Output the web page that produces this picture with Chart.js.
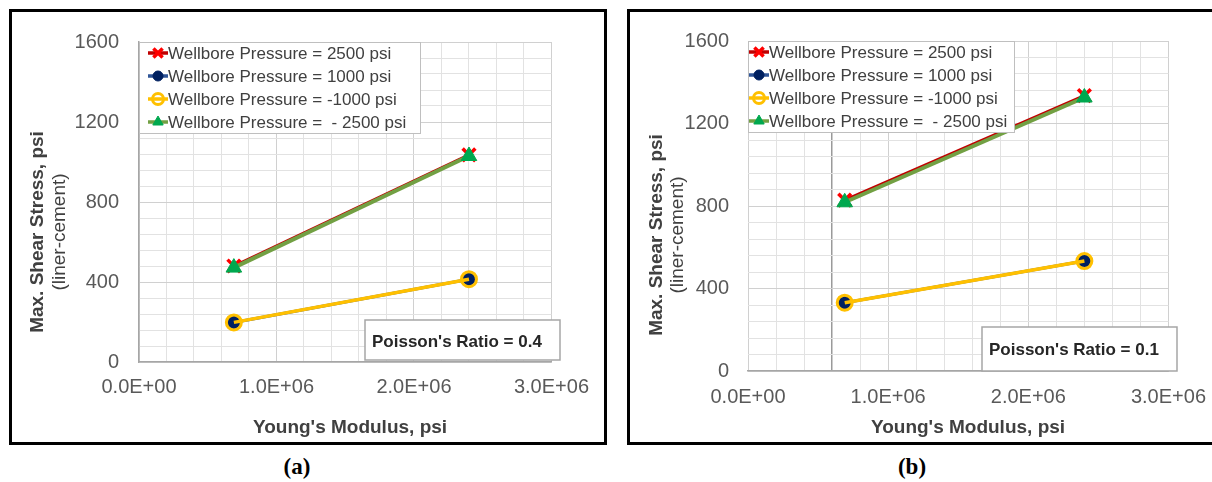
<!DOCTYPE html>
<html>
<head>
<meta charset="utf-8">
<script src="https://cdn.jsdelivr.net/npm/chart.js@4.4.1/dist/chart.umd.min.js"></script>
<style>
  body { margin: 0; width: 1212px; height: 482px; overflow: hidden; background: #fff; position: relative; }
  .frame { position: absolute; top: 9px; width: 598px; height: 436px; border: 3px solid #000; box-sizing: border-box; }
  .chart { position: absolute; top: 12px; width: 592px; height: 430px; }
  .caption { position: absolute; top: 454px; width: 60px; text-align: center; line-height: 26px;
             font: bold 23px "Liberation Serif", "Times New Roman", serif; color: #000; }
</style>
</head>
<body>
<div class="frame" style="left:9px"></div>
<div class="frame" style="left:627px"></div>
<div class="chart" style="left:12px"><canvas id="chart-a"></canvas></div>
<div class="chart" style="left:630px"><canvas id="chart-b"></canvas></div>
<div class="caption" style="left:267px">(a)</div>
<div class="caption" style="left:882px">(b)</div>

<script>
// Young's modulus values (psi) used in both runs
const youngsModulus = [0.69e6, 2.4e6];

// Poisson's ratio = 0.4
const shearA2500 = [480, 1036];
const shearA1000 = [198, 414];
const shearAneg1000 = [198, 414];
const shearAneg2500 = [472, 1030];

// Poisson's ratio = 0.1
const shearB2500 = [828, 1335];
const shearB1000 = [331, 533];
const shearBneg1000 = [331, 533];
const shearBneg2500 = [818, 1326];

const seriesLabels = [
  "Wellbore Pressure = 2500 psi",
  "Wellbore Pressure = 1000 psi",
  "Wellbore Pressure = -1000 psi",
  "Wellbore Pressure =  - 2500 psi",
];

const yTicksMajor = [0, 400, 800, 1200, 1600];
const xTicksMajor = [0, 1e6, 2e6, 3e6];

const FONT = '"Liberation Sans", Arial, sans-serif';

function toPoints(ys) {
  return youngsModulus.map((x, i) => ({ x: x, y: ys[i] }));
}

// Excel-style scientific label, e.g. 1.0E+06
function sci(v) {
  const [m, e] = v.toExponential(1).split("e");
  const n = parseInt(e, 10);
  return m + "E" + (n < 0 ? "-" : "+") + String(Math.abs(n)).padStart(2, "0");
}

function makeDatasets(s2500, s1000, sNeg1000, sNeg2500) {
  return [
    {
      label: seriesLabels[0], data: toPoints(s2500), order: 3,
      borderColor: "#c00000", borderWidth: 3,
      pointStyle: "crossRot", pointRadius: 9, pointBorderWidth: 3.5,
      pointBorderColor: "#ff0000", pointBackgroundColor: "#ff0000", legendRadius: 6.5,
    },
    {
      label: seriesLabels[1], data: toPoints(s1000), order: 3,
      borderColor: "#2f5597", borderWidth: 3,
      pointStyle: "circle", pointRadius: 6, pointBorderWidth: 1,
      pointBorderColor: "#002060", pointBackgroundColor: "#002060", legendRadius: 5,
    },
    {
      label: seriesLabels[2], data: toPoints(sNeg1000), order: 1,
      borderColor: "#ffc000", borderWidth: 3.5,
      pointStyle: "circle", pointRadius: 7.5, pointBorderWidth: 3,
      pointBorderColor: "#ffc000", pointBackgroundColor: "rgba(0,0,0,0)", legendRadius: 5.5,
    },
    {
      label: seriesLabels[3], data: toPoints(sNeg2500), order: 1,
      borderColor: "#72a043", borderWidth: 4,
      pointStyle: "triangle", pointRadius: 9, pointBorderWidth: 1,
      pointBorderColor: "#00a84f", pointBackgroundColor: "#00a84f", legendRadius: 6,
    },
  ];
}

// legend box, ratio note and axis titles drawn over the plot
const panelDecor = {
  id: "panelDecor",
  afterDraw(chart, args, o) {
    const ctx = chart.ctx;
    const area = chart.chartArea;
    ctx.save();

    // legend in the upper left corner of the plot
    const bx = area.left, by = area.top;
    ctx.fillStyle = "#fff";
    ctx.fillRect(bx, by, o.legendW, 92);
    ctx.strokeStyle = "#bfbfbf";
    ctx.lineWidth = 1;
    ctx.strokeRect(bx + 0.5, by + 0.5, o.legendW - 1, 91);
    chart.data.datasets.forEach((ds, i) => {
      const y = by + 11 + i * 23;
      const x0 = bx + o.sampleX, x1 = x0 + 20;
      ctx.strokeStyle = ds.borderColor;
      ctx.lineWidth = 3.5;
      ctx.beginPath();
      ctx.moveTo(x0, y);
      ctx.lineTo(x1, y);
      ctx.stroke();
      ctx.fillStyle = ds.pointBackgroundColor;
      ctx.strokeStyle = ds.pointBorderColor;
      ctx.lineWidth = ds.pointBorderWidth;
      Chart.helpers.drawPoint(ctx, {
        pointStyle: ds.pointStyle, radius: ds.legendRadius,
        borderWidth: ds.pointBorderWidth, rotation: 0,
      }, (x0 + x1) / 2, y);
      ctx.fillStyle = "#404040";
      ctx.font = "17px " + FONT;
      ctx.textAlign = "left";
      ctx.textBaseline = "middle";
      ctx.fillText(ds.label, x1, y + 1);
    });

    // Poisson's ratio note
    const n = o.note;
    ctx.fillStyle = "#fff";
    ctx.fillRect(n.x, n.y, n.w, n.h);
    ctx.strokeStyle = "#a6a6a6";
    ctx.lineWidth = 1.5;
    ctx.strokeRect(n.x, n.y, n.w, n.h);
    ctx.fillStyle = "#262626";
    ctx.font = "bold 17px " + FONT;
    ctx.textAlign = "left";
    ctx.textBaseline = "middle";
    ctx.fillText(n.text, n.x + 7, n.ty);

    // axis titles
    ctx.fillStyle = "#404040";
    ctx.textAlign = "center";
    ctx.font = "bold 19px " + FONT;
    ctx.fillText("Young's Modulus, psi", o.xTitle.x, o.xTitle.y);

    ctx.save();
    ctx.translate(o.yTitle.x1, o.yTitle.y);
    ctx.rotate(-Math.PI / 2);
    ctx.fillText("Max. Shear Stress, psi", 0, 0);
    ctx.restore();
    ctx.save();
    ctx.translate(o.yTitle.x2, o.yTitle.y);
    ctx.rotate(-Math.PI / 2);
    ctx.font = "19px " + FONT;
    ctx.fillText("(liner-cement)", 0, 0);
    ctx.restore();

    ctx.restore();
  },
};

function buildChart(id, datasets, cfg) {
  return new Chart(document.getElementById(id), {
    type: "scatter",
    data: { datasets: datasets },
    plugins: [panelDecor],
    options: {
      responsive: true,
      maintainAspectRatio: false,
      animation: false,
      showLine: true,
      layout: { padding: { left: 0, top: cfg.top, right: cfg.right, bottom: 0 } },
      plugins: {
        legend: { display: false },
        tooltip: { enabled: false },
        panelDecor: cfg.decor,
      },
      scales: {
        x: {
          type: "linear", min: 0, max: 3e6,
          afterFit: (s) => { s.height = cfg.xHeight; },
          border: { display: true, color: "#a6a6a6", width: 1.5 },
          grid: {
            drawTicks: false,
            color: (c) => {
              const v = c.tick ? c.tick.value : 0;
              if (cfg.crossAt !== null && v === cfg.crossAt) return "#9a9a9a";
              return xTicksMajor.includes(v) ? "#d0d0d0" : "#e2e2e2";
            },
            lineWidth: (c) => (c.tick && c.tick.value === cfg.crossAt ? 1.5 : 1),
          },
          ticks: {
            stepSize: 2e5, autoSkip: false, maxRotation: 0, minRotation: 0,
            padding: cfg.xPad, color: "#595959",
            font: { family: FONT, size: 20, lineHeight: 1 },
            callback: (v) => (xTicksMajor.includes(v) ? sci(v) : ""),
          },
        },
        y: {
          type: "linear", min: 0, max: 1600,
          afterFit: (s) => { s.width = cfg.yWidth; },
          border: { display: cfg.crossAt === null, color: "#a6a6a6", width: 1.5 },
          grid: {
            drawTicks: false,
            color: (c) => (c.tick && yTicksMajor.includes(c.tick.value) ? "#d0d0d0" : "#e2e2e2"),
          },
          ticks: {
            stepSize: 80, autoSkip: false,
            padding: cfg.yPad, color: "#595959",
            font: { family: FONT, size: 20, lineHeight: 1 },
            callback: (v) => (yTicksMajor.includes(v) ? String(v) : ""),
          },
        },
      },
    },
  });
}

buildChart("chart-a", makeDatasets(shearA2500, shearA1000, shearAneg1000, shearAneg2500), {
  top: 10, right: 42, yWidth: 127, xHeight: 80, xPad: 15, yPad: 20, crossAt: null,
  decor: {
    legendW: 282, sampleX: 9,
    note: { x: 353, y: 308, w: 195, h: 40, ty: 330, text: "Poisson's Ratio = 0.4" },
    xTitle: { x: 338, y: 416 },
    yTitle: { x1: 26, x2: 48, y: 220 },
  },
});

buildChart("chart-b", makeDatasets(shearB2500, shearB1000, shearBneg1000, shearBneg2500), {
  top: 11, right: 44, yWidth: 118, xHeight: 71, xPad: 16, yPad: 19, crossAt: 6e5,
  decor: {
    legendW: 267, sampleX: 1,
    note: { x: 352, y: 315, w: 195, h: 44, ty: 338, text: "Poisson's Ratio = 0.1" },
    xTitle: { x: 338, y: 416 },
    yTitle: { x1: 27, x2: 48, y: 223 },
  },
});
</script>
</body>
</html>
